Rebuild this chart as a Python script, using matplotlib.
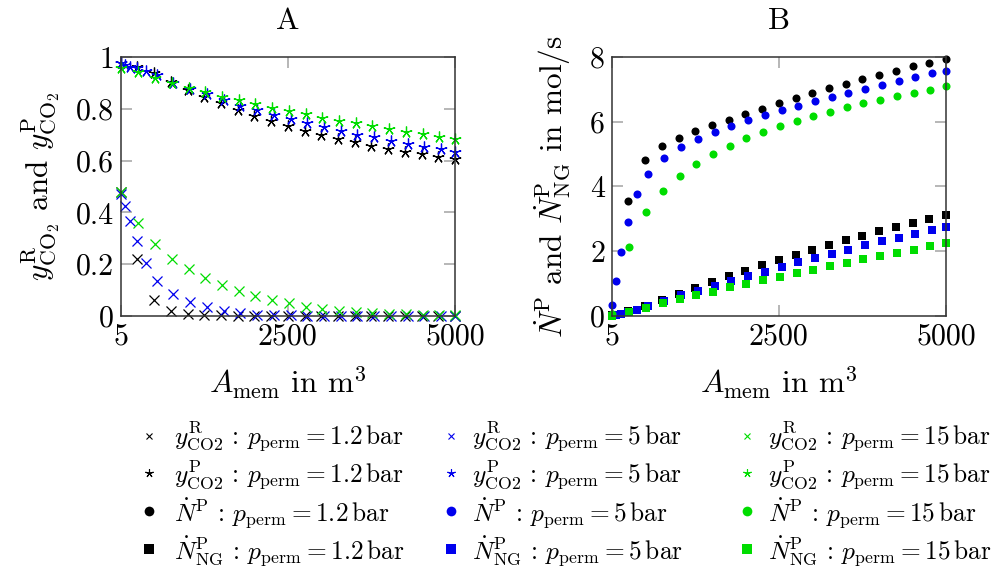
import matplotlib
matplotlib.use("Agg")
import matplotlib.pyplot as plt
from matplotlib.lines import Line2D

plt.rcParams['font.family'] = 'serif'
plt.rcParams['font.serif'] = ['cmr10']
plt.rcParams['mathtext.fontset'] = 'cm'
plt.rcParams['axes.formatter.use_mathtext'] = True
plt.rcParams['axes.unicode_minus'] = False

# ---------------- data ----------------
x_12 = [5, 250, 500, 750, 1000, 1250, 1500, 1750, 2000, 2250, 2500, 2750, 3000,
        3250, 3500, 3750, 4000, 4250, 4500, 4750, 5000]
x_5 = [5, 60, 135, 250, 375, 545, 790, 1040, 1290, 1540, 1790, 2040, 2290, 2540,
       2790, 3040, 3290, 3540, 3790, 4040, 4290, 4540, 4790, 5000]
x_15 = [5, 265, 515, 765, 1015, 1265, 1515, 1765, 2015, 2265, 2515, 2765, 3015,
        3265, 3515, 3765, 4015, 4265, 4515, 4765, 5000]

# y_CO2^R (retentate)
yR_12 = [0.48, 0.22, 0.063, 0.018, 0.007, 0.004, 0.002, 0.001, 0.001, 0.0, 0.0,
         0.0, 0.0, 0.0, 0.0, 0.0, 0.0, 0.0, 0.0, 0.0, 0.0]
yR_5 = [0.47, 0.426, 0.367, 0.29, 0.206, 0.136, 0.085, 0.053, 0.034, 0.019, 0.01,
        0.005, 0.003, 0.002, 0.001, 0.001, 0.0, 0.0, 0.0, 0.0, 0.0, 0.0, 0.0, 0.0]
yR_15 = [0.48, 0.36, 0.278, 0.22, 0.18, 0.148, 0.12, 0.098, 0.077, 0.062, 0.049,
         0.036, 0.028, 0.021, 0.016, 0.012, 0.009, 0.006, 0.004, 0.003, 0.002]

# y_CO2^P (permeate)
yP_12 = [0.978, 0.963, 0.937, 0.905, 0.873, 0.847, 0.821, 0.795, 0.773, 0.754,
         0.734, 0.716, 0.699, 0.685, 0.671, 0.658, 0.645, 0.634, 0.624, 0.615, 0.606]
yP_5 = [0.975, 0.970, 0.963, 0.959, 0.946, 0.929, 0.901, 0.877, 0.859, 0.834,
        0.812, 0.795, 0.776, 0.761, 0.744, 0.728, 0.714, 0.699, 0.690, 0.677,
        0.664, 0.654, 0.645, 0.634]
yP_15 = [0.959, 0.941, 0.920, 0.901, 0.879, 0.864, 0.847, 0.834, 0.819, 0.804,
         0.792, 0.779, 0.766, 0.754, 0.744, 0.732, 0.722, 0.712, 0.702, 0.692, 0.682]

# N^P (permeate flow, mol/s)
NP_12 = [0.05, 3.55, 4.82, 5.24, 5.50, 5.70, 5.89, 6.06, 6.24, 6.40, 6.57, 6.72,
         6.88, 7.03, 7.18, 7.31, 7.45, 7.58, 7.71, 7.82, 7.95]
NP_5 = [0.34, 1.09, 1.98, 2.91, 3.78, 4.40, 4.87, 5.21, 5.47, 5.69, 5.88, 6.05,
        6.20, 6.35, 6.50, 6.63, 6.76, 6.90, 7.01, 7.15, 7.26, 7.38, 7.50, 7.58]
NP_15 = [0.05, 2.14, 3.21, 3.86, 4.33, 4.70, 5.00, 5.26, 5.49, 5.68, 5.86, 6.02,
         6.17, 6.31, 6.45, 6.57, 6.67, 6.79, 6.89, 6.99, 7.10]

# N^P_NG (natural gas in permeate, mol/s)
NNG_12 = [0.02, 0.15, 0.31, 0.49, 0.68, 0.86, 1.04, 1.23, 1.40, 1.57, 1.73, 1.88,
          2.04, 2.19, 2.34, 2.48, 2.62, 2.75, 2.87, 2.99, 3.11]
NNG_5 = [0.01, 0.03, 0.06, 0.12, 0.19, 0.31, 0.46, 0.64, 0.78, 0.94, 1.09, 1.24,
         1.37, 1.51, 1.66, 1.79, 1.92, 2.05, 2.18, 2.31, 2.42, 2.54, 2.66, 2.76]
NNG_15 = [0.0, 0.11, 0.24, 0.39, 0.52, 0.64, 0.75, 0.89, 0.99, 1.11, 1.21, 1.33,
          1.43, 1.54, 1.65, 1.76, 1.85, 1.96, 2.05, 2.15, 2.25]

pressures = ['1.2', '5', '15']
colors = ['black', '#0000ee', '#00dd00']
xs = [x_12, x_5, x_15]
yRs = [yR_12, yR_5, yR_15]
yPs = [yP_12, yP_5, yP_15]
NPs = [NP_12, NP_5, NP_15]
NNGs = [NNG_12, NNG_5, NNG_15]

x_ticks = [5, 2500, 5000]
yA_ticks = [0, 0.2, 0.4, 0.6, 0.8, 1.0]
yA_labels = ['0', '0.2', '0.4', '0.6', '0.8', '1']
yB_ticks = [0, 2, 4, 6, 8]

# ---------------- figure ----------------
W, H = 1005, 572
fig = plt.figure(figsize=(W / 100, H / 100), dpi=100)
axA = fig.add_axes([121 / W, 1 - 316 / H, 334 / W, 259 / H])
axB = fig.add_axes([612 / W, 1 - 316 / H, 334 / W, 259 / H])

star = (5, 2, 0)
FT = 21.5   # tick labels
FL = 22.5   # axis labels / titles
FG = 18.3   # legend

for ax in (axA, axB):
    ax.set_xlim(5, 5000)
    ax.set_xticks(x_ticks)
    ax.set_xticklabels([str(t) for t in x_ticks])
    ax.tick_params(direction='in', length=8, width=1.2, color='#aaaaaa',
                   top=True, right=True, labelsize=FT, pad=5)
    for s in ax.spines.values():
        s.set_color('#333333')
        s.set_linewidth(1.1)
    ax.set_xlabel(r'$A_{\mathrm{mem}}$ in m$^3$', fontsize=FL, labelpad=10)

for x, yr, yp, c in zip(xs, yRs, yPs, colors):
    axA.plot(x, yr, linestyle='none', marker='x', ms=6.5, mew=0.9, color=c, clip_on=False)
    axA.plot(x, yp, linestyle='none', marker=star, ms=8.5, mew=0.9, color=c, clip_on=False)
for x, npv, nng, c in zip(xs, NPs, NNGs, colors):
    axB.plot(x, npv, linestyle='none', marker='o', ms=5.8, mew=0, color=c, clip_on=False)
    axB.plot(x, nng, linestyle='none', marker='s', ms=5.5, mew=0, color=c, clip_on=False)

axA.set_ylim(0, 1)
axA.set_yticks(yA_ticks)
axA.set_yticklabels(yA_labels)
axB.set_ylim(0, 8)
axB.set_yticks(yB_ticks)
axB.set_yticklabels([str(t) for t in yB_ticks])

axA.set_title('A', fontsize=FL, pad=20)
axB.set_title('B', fontsize=FL, pad=20)
axA.set_ylabel(r'$y^{\mathrm{R}}_{\mathrm{CO}_2}$ and $y^{\mathrm{P}}_{\mathrm{CO}_2}$',
               fontsize=FL, labelpad=9)
axB.set_ylabel(r'$\dot{N}^{\mathrm{P}}$ and $\dot{N}^{\mathrm{P}}_{\mathrm{NG}}$ in mol/s',
               fontsize=FL, labelpad=12)

# ---------------- legend (one block per pressure column) ----------------
col_left = [138, 440, 736]
col_pad = [0.55, 0.4, 0.4]
for p, c, xl, tp in zip(pressures, colors, col_left, col_pad):
    tail = r'\,:\,p_{\mathrm{perm}} = ' + p + r'\,\mathrm{bar}$'
    handles = [Line2D([], [], ls='none', marker='x', ms=5, mew=0.8, color=c),
               Line2D([], [], ls='none', marker=star, ms=6, mew=0.8, color=c),
               Line2D([], [], ls='none', marker='o', ms=7, mew=0, color=c),
               Line2D([], [], ls='none', marker='s', ms=7, mew=0, color=c)]
    labels = [r'$y^{\mathrm{R}}_{\mathrm{CO2}}' + tail,
              r'$y^{\mathrm{P}}_{\mathrm{CO2}}' + tail,
              r'$\dot{N}^{\mathrm{P}}' + tail,
              r'$\dot{N}^{\mathrm{P}}_{\mathrm{NG}}' + tail]
    fig.legend(handles, labels, ncol=1, loc='upper left',
               bbox_to_anchor=(xl / W, 1 - 420 / H), frameon=False,
               fontsize=FG, handlelength=0.85, handletextpad=tp,
               labelspacing=0.16, borderaxespad=0, borderpad=0)

fig.savefig('out.png', dpi=100)
